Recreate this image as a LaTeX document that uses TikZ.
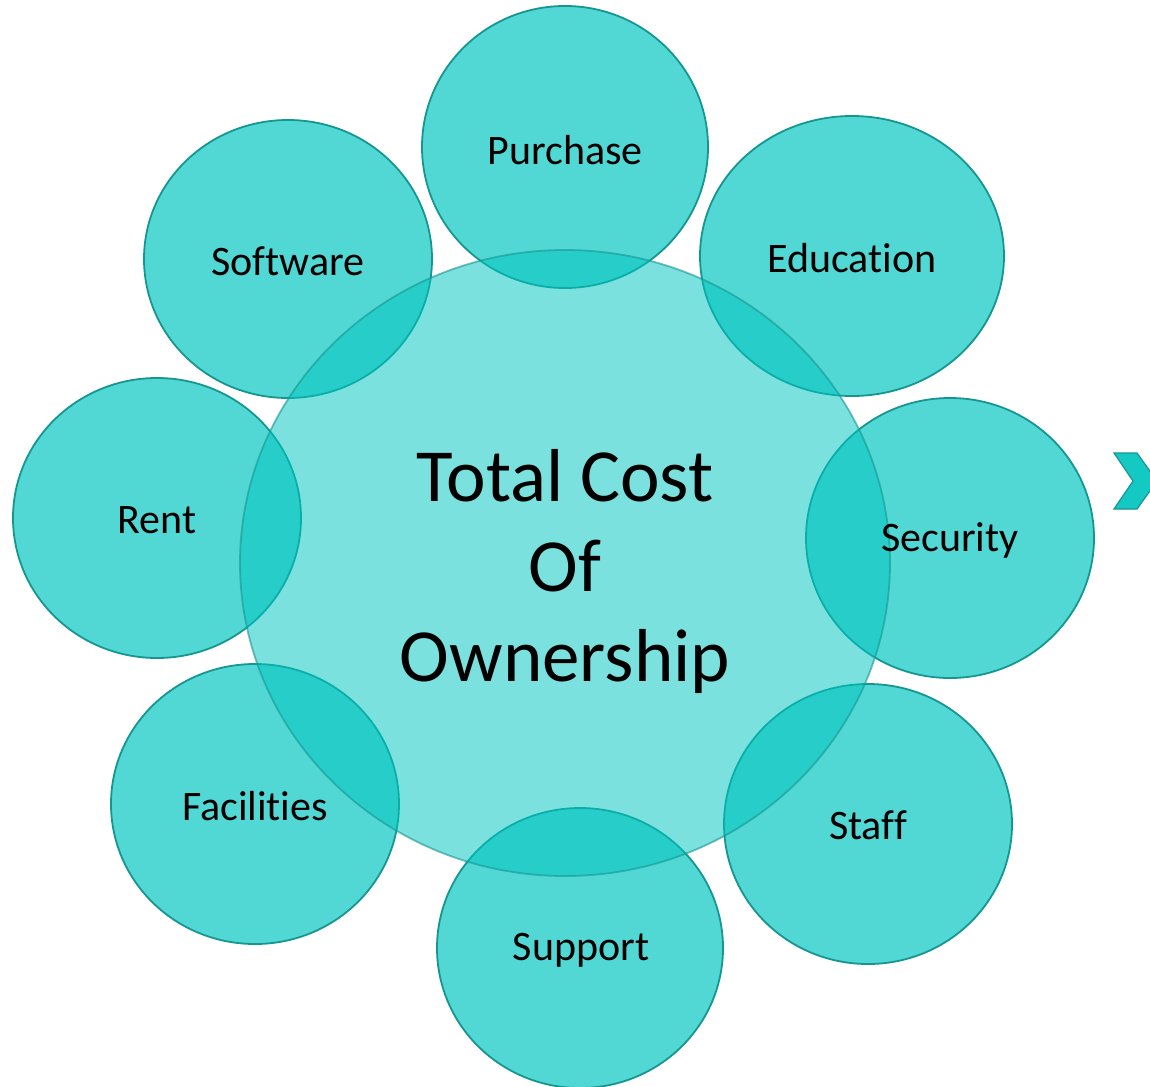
\documentclass[tikz,border=0pt]{standalone}
\usepackage{fontspec}
\setmainfont{Carlito}[Ligatures={NoCommon}]
\definecolor{tealc}{RGB}{0,197,191}
\definecolor{tealline}{RGB}{22,150,145}
\definecolor{chevfill}{RGB}{20,200,195}
\tikzset{
  outer/.style={draw=tealline, line width=1.8pt, fill=tealc, fill opacity=0.68, draw opacity=1, text opacity=1},
  inner/.style={draw=tealline, draw opacity=0.6, line width=1.8pt, fill=tealc, fill opacity=0.52, text opacity=1},
  lbl/.style={font=\fontsize{42}{50}\selectfont, text=black},
}
\begin{document}
\begin{tikzpicture}[x=1pt,y=-1pt]
\useasboundingbox (0,0) rectangle (1150,1086);
\begin{scope}
\clip (0,0) rectangle (1150,1086);
% outer circles
\filldraw[outer] (565,147) ellipse [x radius=143, y radius=141];
\filldraw[outer] (852,256) ellipse [x radius=152, y radius=140];
\filldraw[outer] (288,259) ellipse [x radius=144, y radius=139];
\filldraw[outer] (157,518) ellipse [x radius=144, y radius=140];
\filldraw[outer] (950,538) ellipse [x radius=144, y radius=140];
\filldraw[outer] (255,804) ellipse [x radius=144, y radius=140];
\filldraw[outer] (868,824) ellipse [x radius=144, y radius=140];
\filldraw[outer] (580,948) ellipse [x radius=143, y radius=140];
% center
\filldraw[inner] (565,563) ellipse [x radius=325, y radius=313];
% chevron
\filldraw[fill=chevfill, draw=tealline, line width=1.2pt]
  (1114,453) -- (1137,453) -- (1157,481) -- (1137,509) -- (1114,509) -- (1133,481) -- cycle;
\end{scope}
\node[lbl] (purchase) at (565,150) {Purchase};
\node[lbl] (education) at (852,258) {Education};
\node[lbl] (software) at (288,261) {Software};
\node[lbl] (rent) at (157,520) {Rent};
\node[lbl] (security) at (950,540) {Security};
\node[lbl] (facilities) at (255,806) {Facilities};
\node[lbl] (staff) at (868,825) {Staff};
\node[lbl] (support) at (581,950) {Support};
\node[align=center, font=\fontsize{75}{90}\selectfont, text=black] (tco) at (565,571) {Total Cost\\Of\\Ownership};
\end{tikzpicture}
\end{document}
